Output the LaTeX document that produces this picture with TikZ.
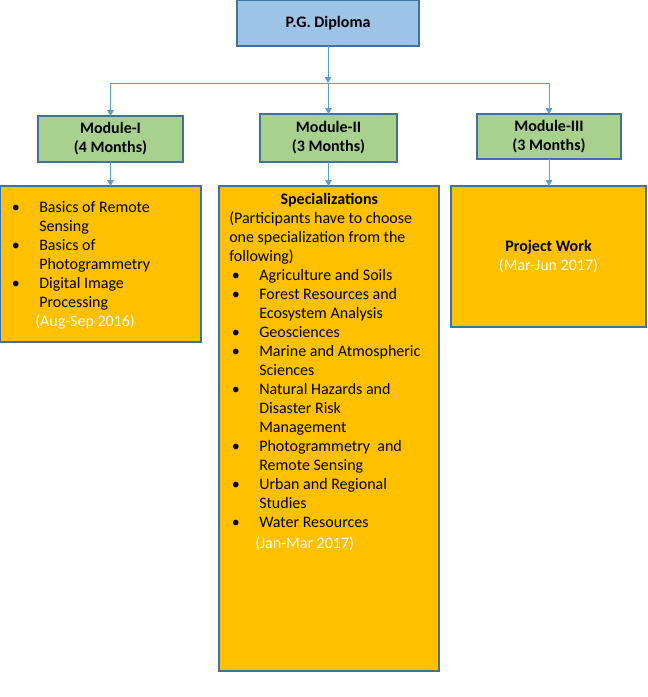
\documentclass[tikz,border=0pt]{standalone}
\usepackage{fontspec}
\setmainfont{Carlito}
\usetikzlibrary{arrows.meta}
\definecolor{headblue}{HTML}{9DC3E6}
\definecolor{edgeblue}{HTML}{41719C}
\definecolor{modgreen}{HTML}{A9D18E}
\definecolor{boxgold}{HTML}{FFC000}
\definecolor{linkblue}{HTML}{5B9BD5}
\newcommand{\bul}{\makebox[22.5pt][l]{\hspace{2pt}\textbullet}}
\newcommand{\ind}{\hspace*{22.5pt}}
\newcommand{\datefont}{\color{white}}

\begin{document}
\begin{tikzpicture}[x=0.75pt, y=-0.75pt,
    box/.style={draw=edgeblue, line width=0.9pt, inner sep=0pt, outer sep=0pt, anchor=north west},
    head/.style={box, fill=headblue, font=\fontsize{12}{14}\selectfont\bfseries},
    module/.style={box, fill=modgreen, align=center, font=\fontsize{12}{14.25}\selectfont\bfseries},
    topic/.style={box, fill=boxgold},
    txt/.style={anchor=north west, inner sep=0pt, align=left, font=\fontsize{12}{14.25}\selectfont},
    link/.style={draw=linkblue, line width=0.75pt, -{Triangle[length=4.5pt,width=5pt]}}]
  \useasboundingbox (0,0) rectangle (648,697);

  \node[head, minimum width=136.5pt, minimum height=34.5pt] (pg) at (237,0) {P.G. Diploma};

  \node[module, minimum width=108.75pt, minimum height=34.5pt] (m1) at (38,116) {Module-I\\(4 Months)};
  \node[module, minimum width=102.75pt, minimum height=36pt] (m2) at (260,114) {Module-II\\(3 Months)};
  \node[module, minimum width=108pt, minimum height=33.75pt] (m3) at (477,114) {Module-III\\(3 Months)};

  \node[topic, minimum width=150.75pt, minimum height=117pt] (b1) at (0,186) {};
  \node[topic, minimum width=165pt, minimum height=363.75pt] (b2) at (219,186) {};
  \node[topic, minimum width=146.25pt, minimum height=105.75pt] (b3) at (451,186) {};

  \node[txt] (t1) at ([shift={(9,13)}]b1.north west) {\strut\bul Basics of Remote\\
    \ind Sensing\\
    \bul Basics of\\
    \ind Photogrammetry\\
    \bul Digital Image\\
    \ind Processing\\
    \hspace*{19.5pt}{\datefont(Aug-Sep 2016)}};

  \node[txt] (t2) at ([shift={(10,5)}]b2.north west) {\strut\makebox[150pt][c]{\bfseries Specializations}\\
    (Participants have to choose\\
    one specialization from the\\
    following)\\
    \bul Agriculture and Soils\\
    \bul Forest Resources and\\
    \ind Ecosystem Analysis\\
    \bul Geosciences\\
    \bul Marine and Atmospheric\\
    \ind Sciences\\
    \bul Natural Hazards and\\
    \ind Disaster Risk\\
    \ind Management\\
    \bul Photogrammetry\ \ and\\
    \ind Remote Sensing\\
    \bul Urban and Regional\\
    \ind Studies\\
    \bul Water Resources\\[1.5pt]
    \hspace*{19.5pt}{\datefont(Jan-Mar 2017)}};

  \node[txt, anchor=center, align=center] (t3) at (b3.center) {\textbf{Project Work}\\
    {\datefont(Mar-Jun 2017)}};

  \coordinate (jn) at (328,83);
  \draw[link] (pg.south) -- (jn);
  \draw[link] (jn) -| (m1.north);
  \draw[link] (jn) -- (jn -| m2.north) -- (m2.north);
  \draw[link] (jn) -| (m3.north);
  \draw[link] (m1.south) -- (m1.south |- b1.north);
  \draw[link] (m2.south) -- (m2.south |- b2.north);
  \draw[link] (m3.south) -- (m3.south |- b3.north);
\end{tikzpicture}
\end{document}
